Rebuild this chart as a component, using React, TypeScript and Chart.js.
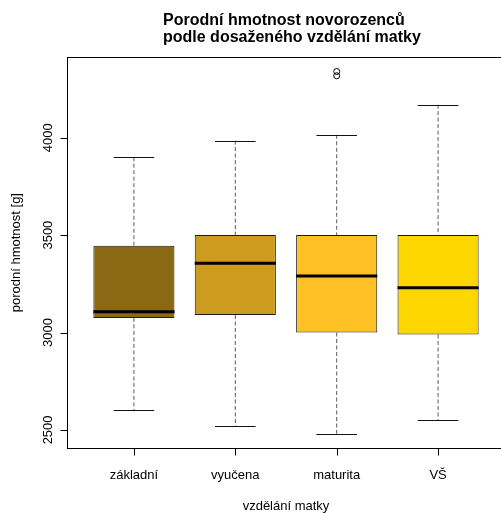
import { useEffect, useRef } from "react";
import { Chart, registerables } from "chart.js";

Chart.register(...registerables);

// Birth weight by mother's education: five-number summaries per group
const categories = ["základní", "vyučena", "maturita", "VŠ"];
const lowerWhisker = [2600, 2520, 2480, 2550];
const lowerQuartile = [3075, 3090, 3000, 2990];
const medians = [3107, 3355, 3290, 3230];
const upperQuartile = [3445, 3500, 3500, 3500];
const upperWhisker = [3900, 3985, 4015, 4170];

// Outlying observations: group number (1-based) and weight
const outlierGroup = [3, 3];
const outlierValue = [4318, 4340];

const yTickValues = [2500, 3000, 3500, 4000];
const boxColors = ["#8B6914", "#CD9B1D", "#FFC125", "#FFD700"];

const titleLines = ["Porodní hmotnost novorozenců", "podle dosaženého vzdělání matky"];
const yTitle = "porodní hmotnost [g]";
const xTitle = "vzdělání matky";

const FONT = "'Liberation Sans', Arial, sans-serif";

// value range padded by 4% on each side, as in base R graphics
const allValues = [...lowerWhisker, ...upperWhisker, ...outlierValue];
const dataMin = Math.min(...allValues);
const dataMax = Math.max(...allValues);
const yPad = (dataMax - dataMin) * 0.04;
const xPad = categories.length * 0.04;

const boxplotDecor = {
  id: "boxplotDecor",
  afterDatasetsDraw(chart: any) {
    const { ctx, scales } = chart;
    const y = scales.y;
    const bars = chart.getDatasetMeta(0).data;
    ctx.save();
    bars.forEach((bar: any, i: number) => {
      const { x: cx, width } = bar.getProps(["x", "width"], true);
      const yHi = y.getPixelForValue(upperWhisker[i]);
      const yQ3 = y.getPixelForValue(upperQuartile[i]);
      const yQ1 = y.getPixelForValue(lowerQuartile[i]);
      const yLo = y.getPixelForValue(lowerWhisker[i]);
      const yMed = y.getPixelForValue(medians[i]);

      // dashed whiskers
      ctx.strokeStyle = "#5a5a5a";
      ctx.lineWidth = 1;
      ctx.setLineDash([4, 2.5]);
      ctx.beginPath();
      ctx.moveTo(cx, yHi);
      ctx.lineTo(cx, yQ3);
      ctx.moveTo(cx, yQ1);
      ctx.lineTo(cx, yLo);
      ctx.stroke();
      ctx.setLineDash([]);

      // staples
      ctx.strokeStyle = "#111";
      ctx.beginPath();
      [yHi, yLo].forEach((py) => {
        const yy = Math.round(py) + 0.5;
        ctx.moveTo(cx - width / 4, yy);
        ctx.lineTo(cx + width / 4, yy);
      });
      ctx.stroke();

      // median
      ctx.strokeStyle = "#000";
      ctx.lineWidth = 3;
      ctx.beginPath();
      ctx.moveTo(cx - width / 2, yMed);
      ctx.lineTo(cx + width / 2, yMed);
      ctx.stroke();
    });
    ctx.restore();
  },
  afterDraw(chart: any) {
    const { ctx, chartArea: a, scales } = chart;
    const { x, y } = scales;
    ctx.save();
    ctx.strokeStyle = "#000";
    ctx.fillStyle = "#000";
    ctx.lineWidth = 1;

    const left = Math.round(a.left) + 0.5;
    const bottom = Math.round(a.bottom) + 0.5;
    const top = Math.round(a.top) + 0.5;
    const right = Math.round(a.right) + 0.5;

    // plot frame
    ctx.strokeRect(left, top, right - left, bottom - top);

    // y axis: line between extreme ticks, outward ticks, rotated labels
    ctx.beginPath();
    const yFirst = y.getPixelForValue(yTickValues[0]);
    const yLast = y.getPixelForValue(yTickValues[yTickValues.length - 1]);
    ctx.moveTo(left, yFirst);
    ctx.lineTo(left, yLast);
    yTickValues.forEach((v) => {
      const py = Math.round(y.getPixelForValue(v)) + 0.5;
      ctx.moveTo(left - 7, py);
      ctx.lineTo(left, py);
    });
    ctx.stroke();

    ctx.font = `13px ${FONT}`;
    ctx.textAlign = "center";
    ctx.textBaseline = "alphabetic";
    yTickValues.forEach((v) => {
      ctx.save();
      ctx.translate(a.left - 15, y.getPixelForValue(v));
      ctx.rotate(-Math.PI / 2);
      ctx.fillText(String(v), 0, 0);
      ctx.restore();
    });

    // x axis: line between first and last group, ticks, labels
    ctx.beginPath();
    ctx.moveTo(x.getPixelForValue(1), bottom);
    ctx.lineTo(x.getPixelForValue(categories.length), bottom);
    categories.forEach((_, i) => {
      const px = Math.round(x.getPixelForValue(i + 1)) + 0.5;
      ctx.moveTo(px, bottom);
      ctx.lineTo(px, bottom + 7);
    });
    ctx.stroke();

    categories.forEach((c, i) => {
      ctx.fillText(c, x.getPixelForValue(i + 1), a.bottom + 31);
    });

    // axis titles
    const midX = (a.left + a.right) / 2;
    const midY = (a.top + a.bottom) / 2;
    ctx.fillText(xTitle, midX, a.bottom + 62);
    ctx.save();
    ctx.translate(20, midY);
    ctx.rotate(-Math.PI / 2);
    ctx.fillText(yTitle, 0, 0);
    ctx.restore();

    // main title
    ctx.font = `bold 16px ${FONT}`;
    ctx.textAlign = "left";
    titleLines.forEach((line, i) => {
      ctx.fillText(line, 163, 25 + i * 17);
    });

    ctx.restore();
  },
};

export default function App() {
  const canvasRef = useRef<HTMLCanvasElement | null>(null);

  useEffect(() => {
    const canvas = canvasRef.current;
    if (!canvas) return;

    const chart = new Chart(canvas, {
      type: "bar",
      data: {
        datasets: [
          {
            type: "bar",
            data: categories.map((_, i) => ({
              x: i + 1,
              y: [lowerQuartile[i], upperQuartile[i]],
            })) as any,
            backgroundColor: boxColors,
            borderColor: "#1a1a1a",
            borderWidth: 1,
            borderSkipped: false,
            categoryPercentage: 1,
            barPercentage: 0.8,
          },
          {
            type: "scatter",
            data: outlierValue.map((v, i) => ({ x: outlierGroup[i], y: v })),
            pointStyle: "circle",
            pointRadius: 3,
            pointBorderWidth: 1,
            pointBorderColor: "#000",
            pointBackgroundColor: "rgba(0,0,0,0)",
          } as any,
        ],
      },
      options: {
        responsive: false,
        animation: false,
        events: [],
        layout: { padding: { left: 67, top: 57, right: 3.5, bottom: 64.7 } },
        plugins: {
          legend: { display: false },
          title: { display: false },
          tooltip: { enabled: false },
        },
        scales: {
          x: {
            type: "linear",
            display: false,
            offset: false,
            grid: { offset: false },
            min: 0.5 - xPad,
            max: categories.length + 0.5 + xPad,
            // one tick per group, so box widths follow the group spacing
            afterBuildTicks: (scale: any) => {
              scale.ticks = categories.map((_, i) => ({ value: i + 1 }));
            },
          },
          y: {
            type: "linear",
            display: false,
            min: dataMin - yPad,
            max: dataMax + yPad,
            afterBuildTicks: (scale: any) => {
              scale.ticks = yTickValues.map((v) => ({ value: v }));
            },
          },
        },
      },
      plugins: [boxplotDecor],
    });

    return () => chart.destroy();
  }, []);

  return (
    <div
      style={{
        position: "absolute",
        left: 0,
        top: 0,
        width: 501,
        height: 513,
        overflow: "hidden",
        background: "#fff",
      }}
    >
      <canvas ref={canvasRef} width={510} height={513} style={{ display: "block" }} />
    </div>
  );
}
